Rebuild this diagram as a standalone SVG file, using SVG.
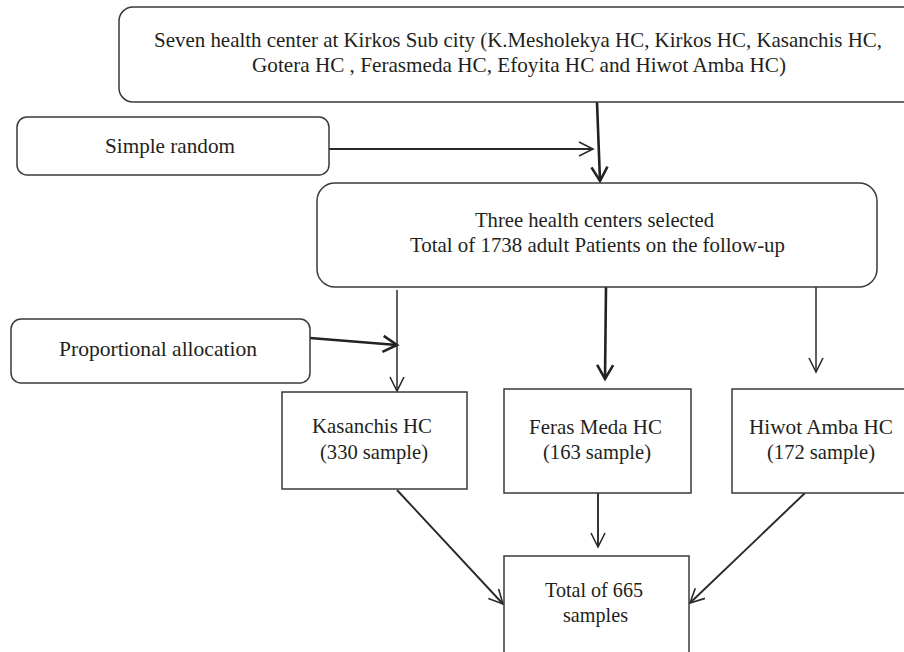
<svg xmlns="http://www.w3.org/2000/svg" width="904" height="652" viewBox="0 0 904 652">
<defs>
<style>
.box{fill:#ffffff;stroke:#3a3a3a;stroke-width:1.5}
.t{font-family:"Liberation Serif","Times New Roman",serif;font-size:21.5px;fill:#231f20}
.c{fill:none;stroke:#2a2a2a;stroke-width:1.5}
.ck{fill:none;stroke:#222;stroke-width:2.6}
.cm{fill:none;stroke:#2a2a2a;stroke-width:1.9}
</style>
<marker id="ah" markerUnits="userSpaceOnUse" markerWidth="20" markerHeight="20" refX="14" refY="7" orient="auto" overflow="visible">
<path d="M0,0 L14,7 L0,14" fill="none" stroke="#2a2a2a" stroke-width="1.6"/>
</marker>
<marker id="ahk" markerUnits="userSpaceOnUse" markerWidth="20" markerHeight="20" refX="14" refY="8" orient="auto" overflow="visible">
<path d="M0,0 L14,8 L0,16" fill="none" stroke="#222" stroke-width="2.6"/>
</marker>
</defs>
<rect width="904" height="652" fill="#ffffff"/>

<g id="connectors">
<line class="ck" x1="597" y1="102" x2="600" y2="181" marker-end="url(#ahk)"/>
<line class="cm" x1="329" y1="149" x2="593" y2="149" marker-end="url(#ah)"/>
<line class="ck" x1="310" y1="338" x2="397" y2="345" marker-end="url(#ahk)"/>
<line class="c" x1="397" y1="290" x2="397" y2="391" marker-end="url(#ah)"/>
<line class="ck" x1="606" y1="287" x2="605" y2="379" marker-end="url(#ahk)"/>
<line class="c" x1="816" y1="286" x2="816" y2="372" marker-end="url(#ah)"/>
<line class="cm" x1="397" y1="490" x2="503" y2="604" marker-end="url(#ah)"/>
<line class="cm" x1="598" y1="493" x2="598" y2="547" marker-end="url(#ah)"/>
<line class="cm" x1="805" y1="493" x2="690" y2="603" marker-end="url(#ah)"/>
</g>

<g id="seven-health-centers">
<rect class="box" x="119" y="7" width="800" height="95" rx="14"/>
<text class="t" x="154" y="47" textLength="728" lengthAdjust="spacingAndGlyphs">Seven health center at Kirkos Sub city (K.Mesholekya HC, Kirkos HC, Kasanchis HC,</text>
<text class="t" x="252" y="72" textLength="534" lengthAdjust="spacingAndGlyphs">Gotera HC , Ferasmeda HC, Efoyita HC and Hiwot Amba HC)</text>
</g>

<g id="simple-random">
<rect class="box" x="17" y="117" width="312" height="58" rx="10"/>
<text class="t" x="105" y="153" textLength="130" lengthAdjust="spacingAndGlyphs">Simple random</text>
</g>

<g id="three-selected">
<rect class="box" x="317" y="183" width="560" height="104" rx="18"/>
<text class="t" x="475" y="227" textLength="239" lengthAdjust="spacingAndGlyphs">Three health centers selected</text>
<text class="t" x="410" y="252" textLength="375" lengthAdjust="spacingAndGlyphs">Total of 1738 adult Patients on the follow-up</text>
</g>

<g id="proportional-allocation">
<rect class="box" x="11" y="319" width="299" height="64" rx="10"/>
<text class="t" x="59" y="356" textLength="198" lengthAdjust="spacingAndGlyphs">Proportional allocation</text>
</g>

<g id="kasanchis">
<rect class="box" x="282" y="392" width="185" height="97"/>
<text class="t" x="312" y="433" textLength="120" lengthAdjust="spacingAndGlyphs">Kasanchis HC</text>
<text class="t" x="320" y="459" textLength="108" lengthAdjust="spacingAndGlyphs">(330 sample)</text>
</g>

<g id="feras-meda">
<rect class="box" x="504" y="389" width="187" height="104"/>
<text class="t" x="529" y="434" textLength="133" lengthAdjust="spacingAndGlyphs">Feras Meda HC</text>
<text class="t" x="543" y="459" textLength="108" lengthAdjust="spacingAndGlyphs">(163 sample)</text>
</g>

<g id="hiwot-amba">
<rect class="box" x="732" y="389" width="180" height="104"/>
<text class="t" x="749" y="434" textLength="144" lengthAdjust="spacingAndGlyphs">Hiwot Amba HC</text>
<text class="t" x="767" y="459" textLength="108" lengthAdjust="spacingAndGlyphs">(172 sample)</text>
</g>

<g id="total">
<rect class="box" x="504" y="556" width="185" height="110"/>
<text class="t" x="545" y="597" textLength="98" lengthAdjust="spacingAndGlyphs">Total of 665</text>
<text class="t" x="563" y="622" textLength="65" lengthAdjust="spacingAndGlyphs">samples</text>
</g>
</svg>
